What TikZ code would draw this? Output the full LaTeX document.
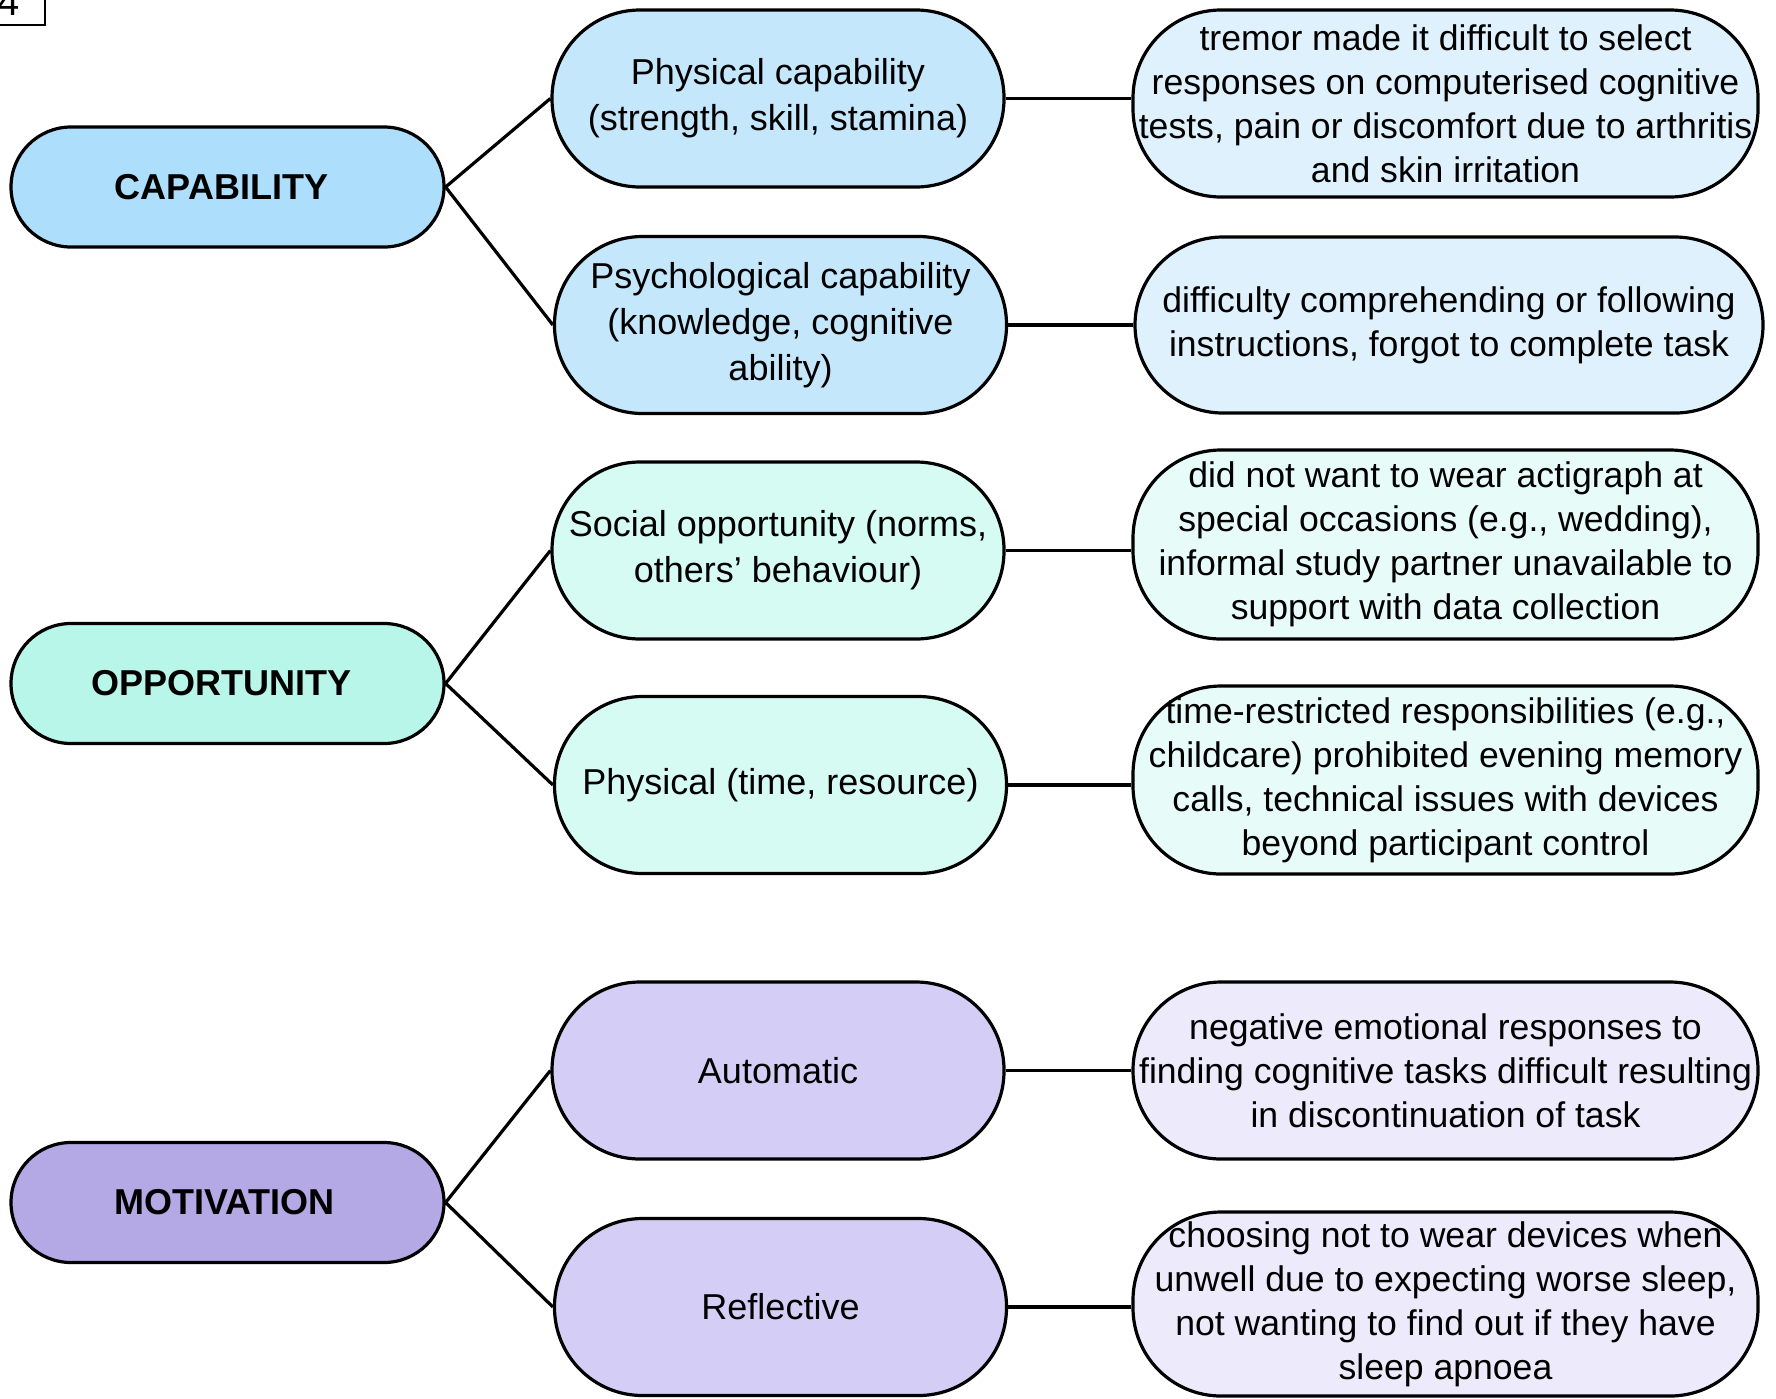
\documentclass[tikz,border=0pt]{standalone}
\usepackage{fontspec}
\setmainfont{Liberation Sans}
\definecolor{capA}{RGB}{173,222,252}
\definecolor{capB}{RGB}{197,231,252}
\definecolor{capC}{RGB}{223,241,253}
\definecolor{oppA}{RGB}{185,246,234}
\definecolor{oppB}{RGB}{214,251,243}
\definecolor{oppC}{RGB}{231,252,248}
\definecolor{motA}{RGB}{180,169,229}
\definecolor{motB}{RGB}{212,206,246}
\definecolor{motC}{RGB}{236,234,251}
\begin{document}
\begin{tikzpicture}[x=0.5pt,y=-0.5pt,
  pill/.style={draw=black,line width=1.6pt,rectangle,align=center,inner sep=0pt},
  head/.style={pill,minimum width=216.5pt,minimum height=60pt,rounded corners=30pt,
    font=\fontsize{18}{21}\selectfont\bfseries},
  mid/.style={pill,minimum width=226pt,minimum height=88.5pt,rounded corners=44pt,
    font=\fontsize{18}{23}\selectfont},
  leaf/.style={pill,minimum width=312.5pt,minimum height=#1,rounded corners=44pt,
    font=\fontsize{17.8}{22}\selectfont},
  link/.style={line width=1.6pt}]
\useasboundingbox (0,0) rectangle (1776,1398);
% figure label box
\draw[line width=1pt] (-10,-10) rectangle (45,25);
\node[anchor=base,inner sep=0pt,font=\fontsize{20}{24}\selectfont] (lbl) at (9,15) {4};
% headers
\node[head,fill=capA] (cap) at (227.5,187) {\hspace*{-6pt}CAPABILITY};
\node[head,fill=oppA] (opp) at (227.5,683.5) {\hspace*{-6pt}OPPORTUNITY};
\node[head,fill=motA] (mot) at (227.5,1202.5) {\hspace*{-3pt}MOTIVATION};
% middle column
\node[mid,fill=capB] (pc) at (778,98.5) {Physical capability\\(strength, skill, stamina)};
\node[mid,fill=capB] (psy) at (780.5,325) {Psychological capability\\(knowledge, cognitive\\ability)};
\node[mid,fill=oppB] (soc) at (778,550.5) {Social opportunity (norms,\\others’ behaviour)};
\node[mid,fill=oppB] (phy) at (780.5,785) {Physical (time, resource)};
\node[mid,fill=motB] (aut) at (778,1070.5) {Automatic};
\node[mid,fill=motB] (ref) at (780.5,1307) {Reflective};
% right column
\node[leaf=93.5pt,fill=capC] (r1) at (1445.5,103.5) {tremor made it difficult to select\\responses on computerised cognitive\\tests, pain or discomfort due to arthritis\\and skin irritation};
\node[leaf=88pt,fill=capC,minimum width=314pt] (r2) at (1449,325) {difficulty comprehending or following\\instructions, forgot to complete task};
\node[leaf=94.5pt,fill=oppC] (r3) at (1445.5,544.5) {did not want to wear actigraph at\\special occasions (e.g., wedding),\\informal study partner unavailable to\\support with data collection};
\node[leaf=94pt,fill=oppC] (r4) at (1445.5,780) {time-restricted responsibilities (e.g.,\\childcare) prohibited evening memory\\calls, technical issues with devices\\beyond participant control};
\node[leaf=88.5pt,fill=motC] (r5) at (1445.5,1070.5) {negative emotional responses to\\finding cognitive tasks difficult resulting\\in discontinuation of task};
\node[leaf=92pt,fill=motC] (r6) at (1445.5,1304) {choosing not to wear devices when\\unwell due to expecting worse sleep,\\not wanting to find out if they have\\sleep apnoea};
% connectors
\draw[link] (cap.east) -- (pc.west);
\draw[link] (cap.east) -- (psy.west);
\draw[link] (opp.east) -- (soc.west);
\draw[link] (opp.east) -- (phy.west);
\draw[link] (mot.east) -- (aut.west);
\draw[link] (mot.east) -- (ref.west);
\draw[link] (pc.east) -- (pc.east -| r1.west);
\draw[link] (psy.east) -- (psy.east -| r2.west);
\draw[link] (soc.east) -- (soc.east -| r3.west);
\draw[link] (phy.east) -- (phy.east -| r4.west);
\draw[link] (aut.east) -- (aut.east -| r5.west);
\draw[link] (ref.east) -- (ref.east -| r6.west);
\end{tikzpicture}
\end{document}
